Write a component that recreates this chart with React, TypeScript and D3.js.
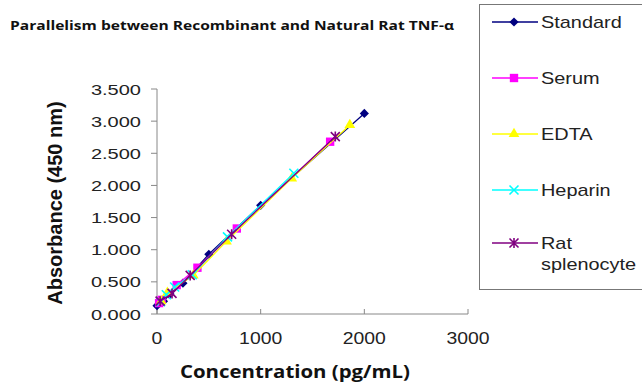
import React, { useEffect, useRef } from "react";
import * as d3 from "d3";

// Values
const titleText = "Parallelism between Recombinant and Natural Rat TNF-\u03b1";
const xTicks = [0, 1000, 2000, 3000];
const yTicks = [0, 0.5, 1, 1.5, 2, 2.5, 3, 3.5];

const standardX = [0, 62.5, 125, 250, 500, 1000, 2000];
const standardY = [0.13, 0.2, 0.31, 0.48, 0.93, 1.69, 3.12];
const serumX = [20, 45, 190, 390, 770, 1670];
const serumY = [0.17, 0.22, 0.45, 0.72, 1.33, 2.68];
const edtaX = [40, 100, 350, 670, 1300, 1860];
const edtaY = [0.2, 0.33, 0.6, 1.13, 2.11, 2.94];
const heparinX = [35, 90, 170, 340, 680, 1320];
const heparinY = [0.19, 0.3, 0.42, 0.61, 1.2, 2.19];
const ratX = [30, 145, 320, 720, 1720];
const ratY = [0.2, 0.32, 0.6, 1.24, 2.76];

const seriesNames = ["Standard", "Serum", "EDTA", "Heparin", "Rat splenocyte"];
const seriesColors = ["#000080", "#ff00ff", "#ffff00", "#00ffff", "#800080"];
const seriesShapes = ["diamond", "square", "triangle", "x", "asterisk"];

const ARIAL = "Arial, 'Liberation Sans', sans-serif";

const App = () => {
  const svgRef = useRef<SVGSVGElement>(null);

  useEffect(() => {
    const svg = d3.select(svgRef.current);
    svg.selectAll("*").remove();

    const x = d3.scaleLinear().domain([0, 3000]).range([157, 468]);
    const y = d3.scaleLinear().domain([0, 3.5]).range([314, 89]);

    // the source image is stretched sideways, so widen text to suit
    const stretch = (sel: any, factor: number) => {
      const node = sel.node();
      const w = node.getComputedTextLength();
      sel.attr("textLength", w * factor).attr("lengthAdjust", "spacingAndGlyphs");
    };

    const series = [
      { xs: standardX, ys: standardY },
      { xs: serumX, ys: serumY },
      { xs: edtaX, ys: edtaY },
      { xs: heparinX, ys: heparinY },
      { xs: ratX, ys: ratY },
    ].map((s, i) => ({
      name: seriesNames[i],
      color: seriesColors[i],
      shape: seriesShapes[i],
      points: s.xs.map((v, j) => [v, s.ys[j]] as [number, number]),
    }));

    svg.append("rect").attr("width", 642).attr("height", 383).attr("fill", "white");

    // title
    svg.append("text")
      .attr("x", 10).attr("y", 30)
      .attr("font-family", "'Open Sans', sans-serif")
      .attr("font-weight", "bold").attr("font-size", 12.5)
      .attr("textLength", 444).attr("lengthAdjust", "spacingAndGlyphs")
      .attr("fill", "#111")
      .text(titleText);

    // axes
    const axisColor = "#888";
    const g = svg.append("g");
    g.append("line").attr("x1", x(0)).attr("x2", x(0)).attr("y1", y(3.5)).attr("y2", y(0))
      .attr("stroke", axisColor);
    g.append("line").attr("x1", x(0)).attr("x2", x(3000)).attr("y1", y(0)).attr("y2", y(0))
      .attr("stroke", axisColor);

    yTicks.forEach(t => {
      g.append("line").attr("x1", x(0) - 6).attr("x2", x(0)).attr("y1", y(t)).attr("y2", y(t))
        .attr("stroke", axisColor);
      const lbl = g.append("text")
        .attr("x", 141).attr("y", y(t)).attr("dy", "0.36em")
        .attr("text-anchor", "end")
        .attr("font-family", ARIAL)
        .attr("font-size", 15.5)
        .attr("fill", "#222")
        .text(t.toFixed(3));
      stretch(lbl, 1.29);
    });

    xTicks.forEach(t => {
      g.append("line").attr("x1", x(t)).attr("x2", x(t)).attr("y1", y(0) - 5).attr("y2", y(0))
        .attr("stroke", axisColor);
      const lbl = g.append("text")
        .attr("x", x(t)).attr("y", 344)
        .attr("text-anchor", "middle")
        .attr("font-family", ARIAL)
        .attr("font-size", 16)
        .attr("fill", "#222")
        .text(String(t));
      stretch(lbl, 1.21);
    });

    // axis titles
    svg.append("text")
      .attr("transform", `translate(62, 203) rotate(-90)`)
      .attr("text-anchor", "middle")
      .attr("font-family", ARIAL)
      .attr("font-weight", "bold").attr("font-size", 20)
      .attr("fill", "#111")
      .text("Absorbance (450 nm)");

    svg.append("text")
      .attr("x", 295).attr("y", 378)
      .attr("text-anchor", "middle")
      .attr("font-family", "'Open Sans', sans-serif")
      .attr("font-weight", "bold").attr("font-size", 17)
      .attr("textLength", 230).attr("lengthAdjust", "spacingAndGlyphs")
      .attr("fill", "#111")
      .text("Concentration (pg/mL)");

    // marker helper
    const drawMarker = (sel: any, shape: string, color: string) => {
      if (shape === "diamond") {
        sel.append("path").attr("d", d3.symbol(d3.symbolSquare, 42)())
          .attr("transform", "rotate(45)").attr("fill", color);
      } else if (shape === "square") {
        sel.append("path").attr("d", d3.symbol(d3.symbolSquare, 70)()).attr("fill", color);
      } else if (shape === "triangle") {
        sel.append("path").attr("d", d3.symbol(d3.symbolTriangle, 50)()).attr("fill", color);
      } else if (shape === "x") {
        sel.append("path").attr("d", "M-4.5,-4.5L4.5,4.5M-4.5,4.5L4.5,-4.5")
          .attr("stroke", color).attr("stroke-width", 1.6).attr("fill", "none");
      } else {
        sel.append("path").attr("d", "M-4.5,-4.5L4.5,4.5M-4.5,4.5L4.5,-4.5M0,-5L0,5")
          .attr("stroke", color).attr("stroke-width", 1.6).attr("fill", "none");
      }
    };

    const line = d3.line<[number, number]>().x(d => x(d[0])).y(d => y(d[1]));

    series.forEach(s => {
      const sg = svg.append("g");
      sg.append("path").attr("d", line(s.points))
        .attr("fill", "none").attr("stroke", s.color).attr("stroke-width", 1.3);
      s.points.forEach(p => {
        const m = sg.append("g").attr("transform", `translate(${x(p[0])},${y(p[1])})`);
        drawMarker(m, s.shape, s.color);
      });
    });

    // legend
    const legend = svg.append("g");
    legend.append("rect")
      .attr("x", 479.5).attr("y", 4.5).attr("width", 200).attr("height", 285)
      .attr("fill", "white").attr("stroke", "#777");
    const rowY = [22, 78, 134, 190, 243];
    series.forEach((s, i) => {
      const ly = rowY[i];
      legend.append("line").attr("x1", 492).attr("x2", 538).attr("y1", ly).attr("y2", ly)
        .attr("stroke", s.color).attr("stroke-width", 1.3);
      const m = legend.append("g").attr("transform", `translate(514,${ly})`);
      drawMarker(m, s.shape, s.color);
      const words = s.name === "Rat splenocyte" ? ["Rat", "splenocyte"] : [s.name];
      words.forEach((w, k) => {
        const lbl = legend.append("text")
          .attr("x", 541).attr("y", ly + k * 21).attr("dy", "0.35em")
          .attr("font-family", ARIAL)
          .attr("font-size", 17)
          .attr("fill", "#222")
          .text(w);
        stretch(lbl, 1.17);
      });
    });
  }, []);

  return (
    <svg ref={svgRef} width={642} height={383}
      style={{ position: "absolute", left: 0, top: 0, display: "block" }}></svg>
  );
};

export default App;
